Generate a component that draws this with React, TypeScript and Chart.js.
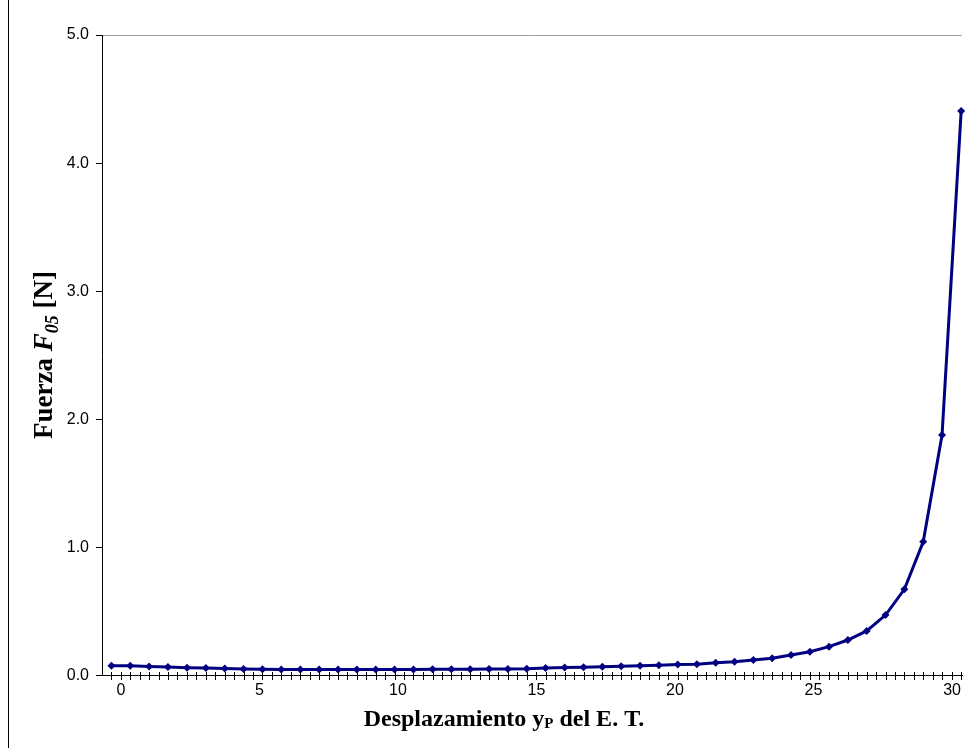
import { useEffect, useRef } from "react";
import { Chart, registerables } from "chart.js";

Chart.register(...registerables);

// Displacement y_P (x values) and Force F05 [N] (y values)
const displacement = [
  -0.34, 0.34, 1.02, 1.70, 2.39, 3.07, 3.75, 4.43, 5.11, 5.79,
  6.48, 7.16, 7.84, 8.52, 9.20, 9.88, 10.56, 11.25, 11.93, 12.61,
  13.29, 13.97, 14.65, 15.33, 16.02, 16.70, 17.38, 18.06, 18.74, 19.42,
  20.10, 20.79, 21.47, 22.15, 22.83, 23.51, 24.19, 24.87, 25.56, 26.24,
  26.92, 27.60, 28.28, 28.96, 29.64, 30.33,
];
const force = [
  0.077, 0.076, 0.070, 0.066, 0.061, 0.058, 0.054, 0.050, 0.049, 0.047,
  0.046, 0.046, 0.046, 0.046, 0.046, 0.047, 0.047, 0.048, 0.048, 0.049,
  0.050, 0.051, 0.052, 0.058, 0.063, 0.064, 0.068, 0.073, 0.077, 0.080,
  0.085, 0.087, 0.100, 0.108, 0.121, 0.134, 0.160, 0.186, 0.225, 0.277,
  0.348, 0.472, 0.673, 1.044, 1.877, 4.406,
];
const xTickValues = [0, 5, 10, 15, 20, 25, 30];
const yTickValues = [0, 1, 2, 3, 4, 5];
const X_MIN = -0.68;
const X_MAX = 30.36;
const Y_MIN = 0;
const Y_MAX = 5;

const SERIES_COLOR = "#000080";
const LABEL_FONT = "Liberation Sans";
const TITLE_FONT = "Liberation Serif";

type Part = { text: string; font: string; dy: number };

function drawParts(ctx: CanvasRenderingContext2D, parts: Part[], cx: number, cy: number) {
  let total = 0;
  for (const p of parts) {
    ctx.font = p.font;
    total += ctx.measureText(p.text).width;
  }
  let x = cx - total / 2;
  for (const p of parts) {
    ctx.font = p.font;
    ctx.fillText(p.text, x, cy + p.dy);
    x += ctx.measureText(p.text).width;
  }
}

export default function App() {
  const ref = useRef<HTMLCanvasElement>(null);

  useEffect(() => {
    document.body.style.overflow = "hidden";
    const canvas = ref.current;
    if (!canvas) return;

    const minorTicks: number[] = [];
    displacement.forEach((v, i) => {
      minorTicks.push(v);
      if (i < displacement.length - 1) minorTicks.push((v + displacement[i + 1]) / 2);
    });

    const decor = {
      id: "decor",
      afterDraw(chart: any) {
        const { ctx, scales } = chart;
        const xs = scales.x;
        const ys = scales.y;
        ctx.save();
        // minor ticks crossing the x axis
        ctx.strokeStyle = "#000";
        ctx.lineWidth = 1;
        const yAxis = Math.round(ys.getPixelForValue(0));
        ctx.beginPath();
        for (const v of minorTicks) {
          const px = Math.round(xs.getPixelForValue(v)) + 0.5;
          ctx.moveTo(px, yAxis - 4);
          ctx.lineTo(px, yAxis + 4);
        }
        ctx.stroke();

        // axis titles
        ctx.fillStyle = "#000";
        ctx.textBaseline = "alphabetic";
        ctx.textAlign = "left";
        drawParts(
          ctx,
          [
            { text: "Desplazamiento y", font: `bold 24px ${TITLE_FONT}`, dy: 0 },
            { text: "P", font: `bold 15px ${TITLE_FONT}`, dy: 2 },
            { text: " del E. T.", font: `bold 24px ${TITLE_FONT}`, dy: 0 },
          ],
          495,
          726
        );

        ctx.translate(43, 355);
        ctx.rotate(-Math.PI / 2);
        drawParts(
          ctx,
          [
            { text: "Fuerza ", font: `bold 27px ${TITLE_FONT}`, dy: 0 },
            { text: "F", font: `italic bold 27px ${TITLE_FONT}`, dy: 0 },
            { text: "05", font: `italic bold 18px ${TITLE_FONT}`, dy: 6 },
            { text: " [N]", font: `bold 27px ${TITLE_FONT}`, dy: 0 },
          ],
          0,
          0
        );
        ctx.restore();
      },
    };

    const chart = new Chart(canvas, {
      type: "line",
      data: {
        datasets: [
          {
            data: displacement.map((x, i) => ({ x, y: force[i] })),
            borderColor: SERIES_COLOR,
            backgroundColor: SERIES_COLOR,
            borderWidth: 3,
            tension: 0,
            pointStyle: "rectRot",
            pointRadius: 4,
            pointBorderWidth: 0,
            pointBackgroundColor: SERIES_COLOR,
            clip: false as any,
          },
        ],
      },
      options: {
        animation: false,
        responsive: false,
        layout: { padding: { top: 35, right: 5, left: 0, bottom: 0 } },
        plugins: {
          legend: { display: false },
          tooltip: { enabled: false },
        },
        scales: {
          x: {
            type: "linear",
            min: X_MIN,
            max: X_MAX,
            afterBuildTicks: (s: any) => {
              s.ticks = xTickValues.map((v) => ({ value: v }));
            },
            afterFit: (s: any) => {
              s.height = 72.5;
            },
            grid: { display: false, drawTicks: false },
            border: { display: true, color: "#000", width: 1 },
            ticks: {
              padding: 5,
              color: "#000",
              font: { family: LABEL_FONT, size: 16 },
              maxRotation: 0,
              autoSkip: false,
              callback: (v: any) => String(v),
            },
          },
          y: {
            type: "linear",
            min: Y_MIN,
            max: Y_MAX,
            afterBuildTicks: (s: any) => {
              s.ticks = yTickValues.map((v) => ({ value: v }));
            },
            afterFit: (s: any) => {
              s.width = 93;
            },
            grid: {
              color: (c: any) => (c.tick && c.tick.value === Y_MAX ? "#a0a0a0" : "rgba(0,0,0,0)"),
              tickColor: "#000",
              tickLength: 6,
              lineWidth: 1,
            },
            border: { display: true, color: "#000", width: 1 },
            ticks: {
              padding: 7,
              color: "#000",
              font: { family: LABEL_FONT, size: 16 },
              autoSkip: false,
              callback: (v: any) => Number(v).toFixed(1),
            },
          },
        },
      },
      plugins: [decor],
    });

    return () => chart.destroy();
  }, []);

  return (
    <div
      style={{
        position: "fixed",
        left: 8,
        top: 0,
        width: 959,
        height: 748,
        boxSizing: "border-box",
        borderLeft: "1px solid #000",
      }}
    >
      <canvas ref={ref} width={958} height={748} style={{ display: "block", width: 958, height: 748 }} />
    </div>
  );
}
